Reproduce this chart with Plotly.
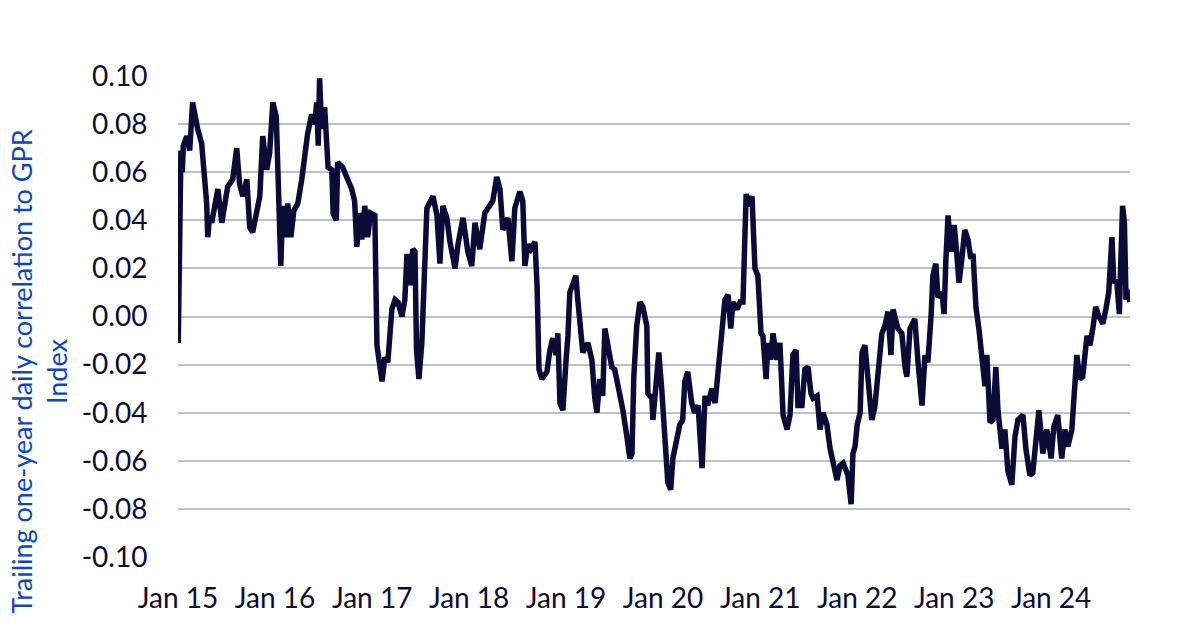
import plotly.graph_objects as go

# trailing one-year daily correlation to GPR index
dates = [
    # 2015
    "2015-01-02", "2015-01-05", "2015-01-08", "2015-01-12", "2015-01-17", "2015-01-21",
    "2015-02-03", "2015-02-14", "2015-02-25", "2015-03-05", "2015-03-16", "2015-03-31",
    "2015-04-08", "2015-04-19", "2015-04-23", "2015-04-30", "2015-05-08", "2015-05-19",
    "2015-05-31", "2015-06-15", "2015-06-26", "2015-07-07", "2015-07-26", "2015-08-10",
    "2015-08-21", "2015-09-02", "2015-09-17", "2015-09-28", "2015-10-09", "2015-10-24",
    "2015-11-05", "2015-11-16", "2015-12-01", "2015-12-12", "2015-12-24",
    # 2016
    "2016-01-06", "2016-01-15", "2016-01-23", "2016-01-30", "2016-02-10", "2016-02-18",
    "2016-03-01", "2016-03-12", "2016-03-27", "2016-04-11", "2016-04-22", "2016-05-03",
    "2016-05-18", "2016-05-30", "2016-06-06", "2016-06-12", "2016-06-17", "2016-06-25",
    "2016-07-06", "2016-07-14", "2016-07-19", "2016-08-02", "2016-08-07", "2016-08-19",
    "2016-08-24", "2016-09-12", "2016-10-01", "2016-10-16", "2016-10-27", "2016-11-04",
    "2016-11-15", "2016-11-23", "2016-12-04", "2016-12-15", "2016-12-26",
    # 2017
    "2017-01-11", "2017-01-19", "2017-01-30", "2017-02-07", "2017-02-18", "2017-03-01",
    "2017-03-16", "2017-03-28", "2017-04-08", "2017-04-23", "2017-05-04", "2017-05-12",
    "2017-05-23", "2017-06-03", "2017-06-11", "2017-06-17", "2017-06-26", "2017-07-07",
    "2017-07-26", "2017-08-06", "2017-08-18", "2017-09-02", "2017-09-13", "2017-09-24",
    "2017-10-09", "2017-10-21", "2017-11-09", "2017-11-20", "2017-12-09", "2017-12-27",
    # 2018
    "2018-01-11", "2018-01-23", "2018-02-10", "2018-03-01", "2018-03-20", "2018-03-31",
    "2018-04-15", "2018-04-27", "2018-05-08", "2018-05-27", "2018-06-11", "2018-06-22",
    "2018-07-11", "2018-07-22", "2018-07-30", "2018-08-10", "2018-08-21", "2018-09-06",
    "2018-09-14", "2018-09-21", "2018-10-02", "2018-10-21", "2018-11-01", "2018-11-12",
    "2018-11-24", "2018-12-01", "2018-12-09", "2018-12-20",
    # 2019
    "2019-01-01", "2019-01-08", "2019-01-15", "2019-01-26", "2019-02-07", "2019-02-14",
    "2019-02-22", "2019-03-05", "2019-03-24", "2019-04-08", "2019-04-19", "2019-04-27",
    "2019-05-08", "2019-05-19", "2019-05-27", "2019-06-07", "2019-06-22", "2019-07-03",
    "2019-07-22", "2019-08-03", "2019-08-18", "2019-08-29", "2019-09-06", "2019-09-13",
    "2019-09-24", "2019-10-06", "2019-10-17", "2019-11-01", "2019-11-05", "2019-11-20",
    "2019-11-24", "2019-12-09", "2019-12-16", "2019-12-27",
    # 2020
    "2020-01-08", "2020-01-19", "2020-01-30", "2020-02-07", "2020-02-22", "2020-03-04",
    "2020-03-15", "2020-03-23", "2020-04-03", "2020-04-18", "2020-04-29", "2020-05-12",
    "2020-05-27", "2020-06-07", "2020-06-17", "2020-07-03", "2020-07-15", "2020-07-26",
    "2020-08-10", "2020-08-21", "2020-09-02", "2020-09-12", "2020-09-20", "2020-10-06",
    "2020-10-17", "2020-10-28", "2020-11-09", "2020-11-16", "2020-12-01", "2020-12-12",
    "2020-12-23",
    # 2021
    "2021-01-04", "2021-01-11", "2021-01-23", "2021-01-30", "2021-02-10", "2021-02-18",
    "2021-03-05", "2021-03-16", "2021-03-28", "2021-04-12", "2021-04-23", "2021-05-04",
    "2021-05-16", "2021-05-23", "2021-06-07", "2021-06-18", "2021-06-30", "2021-07-11",
    "2021-07-19", "2021-08-03", "2021-08-14", "2021-08-25", "2021-09-09", "2021-09-21",
    "2021-10-02", "2021-10-17", "2021-10-28", "2021-11-09", "2021-11-20", "2021-11-27",
    "2021-12-09", "2021-12-16", "2021-12-24",
    # 2022
    "2022-01-01", "2022-01-12", "2022-01-19", "2022-01-30", "2022-02-10", "2022-02-25",
    "2022-03-08", "2022-03-20", "2022-04-04", "2022-04-15", "2022-04-27", "2022-05-08",
    "2022-05-16", "2022-06-03", "2022-06-18", "2022-06-30", "2022-07-07", "2022-07-19",
    "2022-08-06", "2022-08-18", "2022-09-02", "2022-09-13", "2022-09-24", "2022-10-06",
    "2022-10-13", "2022-10-24", "2022-11-01", "2022-11-16", "2022-11-24", "2022-12-01",
    "2022-12-09", "2022-12-20",
    # 2023
    "2023-01-01", "2023-01-11", "2023-01-19", "2023-01-30", "2023-02-10", "2023-02-22",
    "2023-03-05", "2023-03-13", "2023-03-24", "2023-04-04", "2023-04-19", "2023-04-27",
    "2023-05-04", "2023-05-16", "2023-05-27", "2023-06-07", "2023-06-15", "2023-06-30",
    "2023-07-11", "2023-07-22", "2023-08-06", "2023-08-18", "2023-08-29", "2023-09-17",
    "2023-09-28", "2023-10-13", "2023-10-24", "2023-11-09", "2023-11-16", "2023-12-01",
    "2023-12-16",
    # 2024
    "2024-01-01", "2024-01-11", "2024-01-26", "2024-02-10", "2024-02-22", "2024-03-04",
    "2024-03-19", "2024-03-27", "2024-04-07", "2024-04-18", "2024-04-29", "2024-05-15",
    "2024-05-26", "2024-06-06", "2024-06-17", "2024-06-29", "2024-07-14", "2024-07-25",
    "2024-08-05", "2024-08-17", "2024-08-24", "2024-09-04", "2024-09-14", "2024-09-18",
    "2024-09-26", "2024-10-03", "2024-10-09", "2024-10-16", "2024-10-23",
]

corr = [
    # 2015
    -0.011, 0.008, 0.021, 0.069, 0.060, 0.071,
    0.075, 0.069, 0.089, 0.084, 0.078, 0.072,
    0.061, 0.047, 0.033, 0.042, 0.039, 0.047,
    0.053, 0.039, 0.047, 0.054, 0.057, 0.070,
    0.055, 0.050, 0.057, 0.037, 0.035, 0.042,
    0.050, 0.075, 0.061, 0.068, 0.089,
    # 2016
    0.083, 0.042, 0.021, 0.046, 0.033, 0.047,
    0.033, 0.044, 0.047, 0.057, 0.069, 0.076,
    0.084, 0.080, 0.089, 0.071, 0.099, 0.078,
    0.087, 0.075, 0.062, 0.061, 0.043, 0.040,
    0.064, 0.062, 0.057, 0.053, 0.048, 0.029,
    0.043, 0.032, 0.046, 0.033, 0.043,
    # 2017
    0.042, -0.012, -0.022, -0.027, -0.017, -0.019,
    0.003, 0.007, 0.006, 0.000, 0.007, 0.026,
    0.013, 0.028, 0.027, -0.014, -0.026, -0.011,
    0.045, 0.048, 0.050, 0.042, 0.022, 0.046,
    0.041, 0.031, 0.020, 0.030, 0.041, 0.027,
    # 2018
    0.021, 0.039, 0.028, 0.043, 0.046, 0.048,
    0.058, 0.053, 0.036, 0.041, 0.023, 0.045,
    0.052, 0.048, 0.021, 0.030, 0.028, 0.031,
    0.012, -0.022, -0.026, -0.023, -0.014, -0.009,
    -0.016, -0.007, -0.036, -0.039,
    # 2019
    -0.018, -0.008, 0.010, 0.013, 0.017, 0.007,
    -0.001, -0.015, -0.011, -0.018, -0.034, -0.040,
    -0.026, -0.033, -0.005, -0.012, -0.021, -0.022,
    -0.032, -0.039, -0.050, -0.059, -0.057, -0.025,
    -0.004, 0.006, 0.004, -0.004, -0.032, -0.034,
    -0.043, -0.022, -0.015, -0.030,
    # 2020
    -0.050, -0.069, -0.072, -0.059, -0.051, -0.045,
    -0.043, -0.027, -0.023, -0.036, -0.040, -0.037,
    -0.063, -0.033, -0.037, -0.030, -0.036, -0.022,
    -0.004, 0.007, 0.009, -0.005, 0.006, 0.003,
    0.006, 0.006, 0.051, 0.046, 0.050, 0.020,
    0.017,
    # 2021
    -0.007, -0.008, -0.026, -0.011, -0.018, -0.007,
    -0.018, -0.011, -0.041, -0.047, -0.041, -0.016,
    -0.014, -0.037, -0.037, -0.022, -0.021, -0.032,
    -0.034, -0.033, -0.047, -0.040, -0.045, -0.055,
    -0.061, -0.068, -0.062, -0.061, -0.064, -0.066,
    -0.078, -0.057, -0.054,
    # 2022
    -0.045, -0.040, -0.015, -0.012, -0.027, -0.043,
    -0.038, -0.025, -0.007, -0.004, 0.002, -0.016,
    0.003, -0.005, -0.007, -0.021, -0.025, -0.005,
    -0.001, -0.019, -0.037, -0.016, -0.019, 0.000,
    0.017, 0.022, 0.008, 0.010, 0.001, 0.024,
    0.042, 0.027,
    # 2023
    0.038, 0.026, 0.014, 0.024, 0.036, 0.032,
    0.024, 0.026, 0.004, -0.005, -0.025, -0.029,
    -0.016, -0.044, -0.043, -0.021, -0.039, -0.055,
    -0.047, -0.064, -0.070, -0.050, -0.043, -0.041,
    -0.055, -0.066, -0.065, -0.047, -0.039, -0.057,
    -0.047,
    # 2024
    -0.059, -0.046, -0.041, -0.059, -0.047, -0.054,
    -0.047, -0.030, -0.016, -0.026, -0.025, -0.008,
    -0.012, -0.005, 0.004, 0.000, -0.003, 0.003,
    0.010, 0.033, 0.014, 0.015, 0.001, 0.018,
    0.046, 0.039, 0.007, 0.011, 0.006,
]

y_ticks = [-0.10, -0.08, -0.06, -0.04, -0.02, 0.00, 0.02, 0.04, 0.06, 0.08, 0.10]
y_title = "Trailing one-year daily correlation to GPR<br>Index"

navy = "#0b0b38"
grid = "#b8c3cf"

fig = go.Figure()
fig.add_trace(go.Scatter(
    x=dates,
    y=corr,
    mode="lines",
    line=dict(color=navy, width=5.5),
    hoverinfo="x+y",
))

fig.update_xaxes(
    type="date",
    range=["2015-01-01", "2024-10-24"],
    tick0="2015-01-01",
    dtick="M12",
    tickformat="%b %y",
    showgrid=False,
    showline=False,
    zeroline=False,
    ticks="outside",
    ticklen=16,
    tickcolor="rgba(0,0,0,0)",
    tickfont=dict(family="Lato", size=28, color=navy),
)
fig.update_yaxes(
    range=[-0.1, 0.1],
    tickvals=y_ticks,
    ticktext=[f"{v:.2f}" for v in y_ticks],
    showgrid=True,
    gridcolor=grid,
    gridwidth=1.6,
    zeroline=False,
    showline=False,
    ticks="outside",
    ticklen=24,
    tickcolor="rgba(0,0,0,0)",
    tickfont=dict(family="Lato", size=28, color=navy),
)

# y-axis title as an annotation so it can sit at the far left
fig.add_annotation(
    text=y_title,
    xref="paper", yref="paper",
    x=-0.146, y=0.385,
    xanchor="center", yanchor="middle",
    textangle=-90,
    showarrow=False,
    font=dict(family="Lato", size=27, color="#0a47c0"),
)

fig.update_layout(
    width=1200,
    height=631,
    plot_bgcolor="white",
    paper_bgcolor="white",
    showlegend=False,
    margin=dict(l=178, r=70, t=76, b=74),
)

# drop the default page margin so the chart sits at the window origin
fig.write_html(
    "out.html",
    config={"displayModeBar": False},
    post_script="document.body.style.margin='0';",
)
